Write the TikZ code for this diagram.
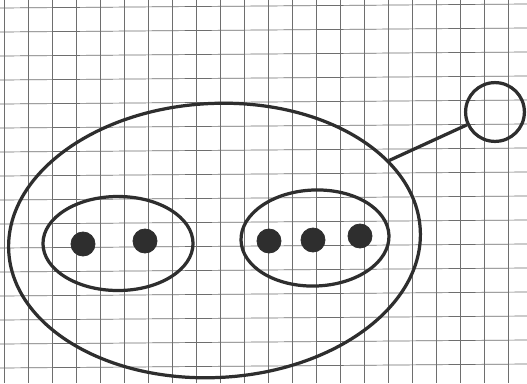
\documentclass[tikz,border=0pt]{standalone}
\usetikzlibrary{shapes.geometric}
\definecolor{inkpen}{HTML}{2E2E2E}
\definecolor{inkgrid}{HTML}{6E6E6E}
\newcommand{\elemdot}[2]{%
  \node[circle, fill=inkpen, draw=inkpen, line width=0.6pt,
        minimum size=0.6cm, inner sep=0pt] (#1) at (#2) {};}

\begin{document}
\begin{tikzpicture}[x=0.025cm, y=-0.025cm]
      \useasboundingbox (0,0) rectangle (527,383);
      \fill[white] (0,0) rectangle (527,383);
      \foreach \gx in {0,...,21}
        \draw[inkgrid, line width=0.5pt] ({4+24*\gx},0) -- ({4+24*\gx},383);
      \foreach \gy in {0,...,15}
        \draw[inkgrid, line width=0.5pt] (0,{8+24*\gy}) -- (527,{4+24*\gy});
      \node[ellipse, draw=inkpen, line width=2.3pt, rotate=3,
            minimum width=10.3cm, minimum height=6.85cm] (universe) at (214.5,240.5) {};
      \node[ellipse, draw=inkpen, line width=2.3pt,
            minimum width=3.75cm, minimum height=2.35cm] (pair) at (118,243.5) {};
      \node[ellipse, draw=inkpen, line width=2.3pt, rotate=2,
            minimum width=3.7cm, minimum height=2.4cm] (triple) at (315,238) {};
      \elemdot{a1}{83,244}
      \elemdot{a2}{145,241}
      \elemdot{b1}{269,241}
      \elemdot{b2}{313,240}
      \elemdot{b3}{360,236}
      \node[circle, draw=inkpen, line width=2.3pt, minimum size=1.47cm] (label) at (495,112) {};
      \draw[inkpen, line width=2.3pt] (universe) -- (label);
    \end{tikzpicture}
\end{document}
